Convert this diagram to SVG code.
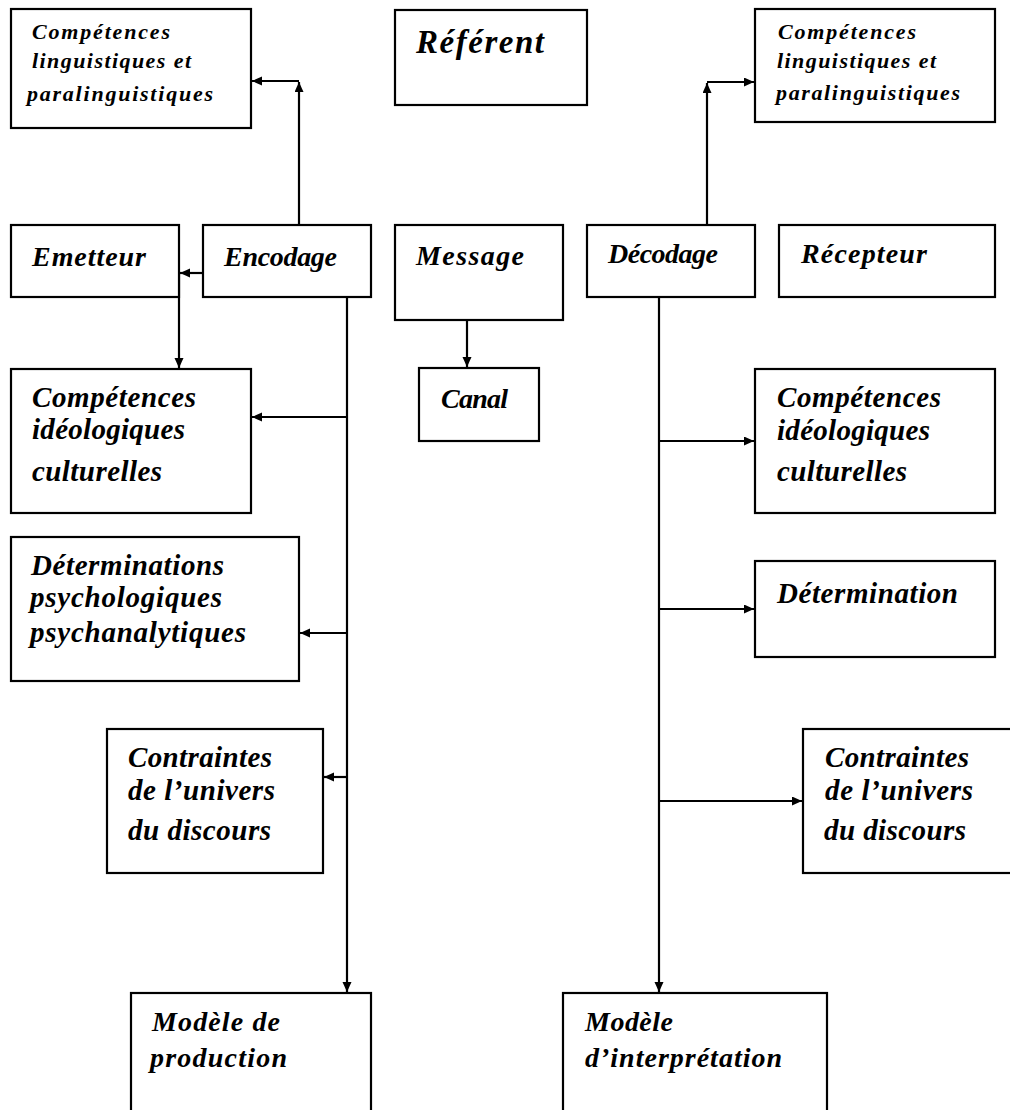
<svg xmlns="http://www.w3.org/2000/svg" width="1010" height="1110" viewBox="0 0 1010 1110">
<style>
.box{fill:#fff;stroke:#000;stroke-width:2.2}
text{font-family:"Liberation Serif","Times New Roman",serif;font-weight:bold;font-style:italic;fill:#000}
.s{font-size:22px}
.m{font-size:28px}
.l{font-size:29px}
.xl{font-size:33px}
.c{fill:none;stroke:#000;stroke-width:2.2}
</style>
<defs>
<marker id="ah" markerUnits="userSpaceOnUse" markerWidth="11" markerHeight="10" refX="10" refY="4.5" orient="auto">
<path d="M0,0 L10,4.5 L0,9 z" fill="#000"/>
</marker>
</defs>
<rect width="1010" height="1110" fill="#fff"/>
<g id="connectors">
<path class="c" d="M299,225 V82" marker-end="url(#ah)"/>
<path class="c" d="M299,81 H252" marker-end="url(#ah)"/>
<path class="c" d="M707,225 V83" marker-end="url(#ah)"/>
<path class="c" d="M707,82 H754" marker-end="url(#ah)"/>
<path class="c" d="M203,273 H180" marker-end="url(#ah)"/>
<path class="c" d="M179,273 V368" marker-end="url(#ah)"/>
<path class="c" d="M467,320 V367" marker-end="url(#ah)"/>
<path class="c" d="M347,297 V992" marker-end="url(#ah)"/>
<path class="c" d="M347,417 H252" marker-end="url(#ah)"/>
<path class="c" d="M347,633 H300" marker-end="url(#ah)"/>
<path class="c" d="M347,777 H324" marker-end="url(#ah)"/>
<path class="c" d="M659,297 V992" marker-end="url(#ah)"/>
<path class="c" d="M659,441 H754" marker-end="url(#ah)"/>
<path class="c" d="M659,609 H754" marker-end="url(#ah)"/>
<path class="c" d="M659,801 H802" marker-end="url(#ah)"/>
</g>
<g id="ling-left">
<rect class="box" x="11" y="9" width="240" height="119"/>
<text class="s" x="32" y="39" textLength="138" lengthAdjust="spacing">Compétences</text>
<text class="s" x="32" y="68" textLength="159" lengthAdjust="spacing">linguistiques et</text>
<text class="s" x="27" y="101" textLength="186" lengthAdjust="spacing">paralinguistiques</text>
</g>
<g id="referent">
<rect class="box" x="395" y="10" width="192" height="95"/>
<text class="xl" x="416" y="53" textLength="128" lengthAdjust="spacing">Référent</text>
</g>
<g id="ling-right">
<rect class="box" x="755" y="9" width="240" height="113"/>
<text class="s" x="778" y="39" textLength="138" lengthAdjust="spacing">Compétences</text>
<text class="s" x="777" y="68" textLength="159" lengthAdjust="spacing">linguistiques et</text>
<text class="s" x="776" y="100" textLength="184" lengthAdjust="spacing">paralinguistiques</text>
</g>
<g id="emetteur">
<rect class="box" x="11" y="225" width="168" height="72"/>
<text class="m" x="32" y="266" textLength="114" lengthAdjust="spacing">Emetteur</text>
</g>
<g id="encodage">
<rect class="box" x="203" y="225" width="168" height="72"/>
<text class="m" x="224" y="266" textLength="113" lengthAdjust="spacing">Encodage</text>
</g>
<g id="message">
<rect class="box" x="395" y="225" width="168" height="95"/>
<text class="m" x="416" y="265" textLength="108" lengthAdjust="spacing">Message</text>
</g>
<g id="decodage">
<rect class="box" x="587" y="225" width="168" height="72"/>
<text class="m" x="608" y="263" textLength="110" lengthAdjust="spacing">Décodage</text>
</g>
<g id="recepteur">
<rect class="box" x="779" y="225" width="216" height="72"/>
<text class="m" x="801" y="263" textLength="126" lengthAdjust="spacing">Récepteur</text>
</g>
<g id="canal">
<rect class="box" x="419" y="368" width="120" height="73"/>
<text class="m" x="441" y="408" textLength="67" lengthAdjust="spacing">Canal</text>
</g>
<g id="ideo-left">
<rect class="box" x="11" y="369" width="240" height="144"/>
<text class="l" x="32" y="407" textLength="164" lengthAdjust="spacing">Compétences</text>
<text class="l" x="32" y="439" textLength="153" lengthAdjust="spacing">idéologiques</text>
<text class="l" x="32" y="481" textLength="130" lengthAdjust="spacing">culturelles</text>
</g>
<g id="ideo-right">
<rect class="box" x="755" y="369" width="240" height="144"/>
<text class="l" x="777" y="407" textLength="164" lengthAdjust="spacing">Compétences</text>
<text class="l" x="777" y="440" textLength="153" lengthAdjust="spacing">idéologiques</text>
<text class="l" x="777" y="481" textLength="130" lengthAdjust="spacing">culturelles</text>
</g>
<g id="determinations">
<rect class="box" x="11" y="537" width="288" height="144"/>
<text class="l" x="31" y="575" textLength="193" lengthAdjust="spacing">Déterminations</text>
<text class="l" x="30" y="607" textLength="192" lengthAdjust="spacing">psychologiques</text>
<text class="l" x="30" y="642" textLength="216" lengthAdjust="spacing">psychanalytiques</text>
</g>
<g id="determination">
<rect class="box" x="755" y="561" width="240" height="96"/>
<text class="l" x="777" y="603" textLength="181" lengthAdjust="spacing">Détermination</text>
</g>
<g id="contraintes-left">
<rect class="box" x="107" y="729" width="216" height="144"/>
<text class="l" x="128" y="767" textLength="144" lengthAdjust="spacing">Contraintes</text>
<text class="l" x="128" y="800" textLength="147" lengthAdjust="spacing">de l’univers</text>
<text class="l" x="128" y="840" textLength="143" lengthAdjust="spacing">du discours</text>
</g>
<g id="contraintes-right">
<rect class="box" x="803" y="729" width="220" height="144"/>
<text class="l" x="825" y="767" textLength="144" lengthAdjust="spacing">Contraintes</text>
<text class="l" x="825" y="800" textLength="148" lengthAdjust="spacing">de l’univers</text>
<text class="l" x="824" y="840" textLength="142" lengthAdjust="spacing">du discours</text>
</g>
<g id="modele-production">
<rect class="box" x="131" y="993" width="240" height="130"/>
<text class="m" x="152" y="1031" textLength="128" lengthAdjust="spacing">Modèle de</text>
<text class="m" x="150" y="1067" textLength="137" lengthAdjust="spacing">production</text>
</g>
<g id="modele-interpretation">
<rect class="box" x="563" y="993" width="264" height="130"/>
<text class="m" x="585" y="1031" textLength="88" lengthAdjust="spacing">Modèle</text>
<text class="m" x="585" y="1067" textLength="197" lengthAdjust="spacing">d’interprétation</text>
</g>
</svg>
